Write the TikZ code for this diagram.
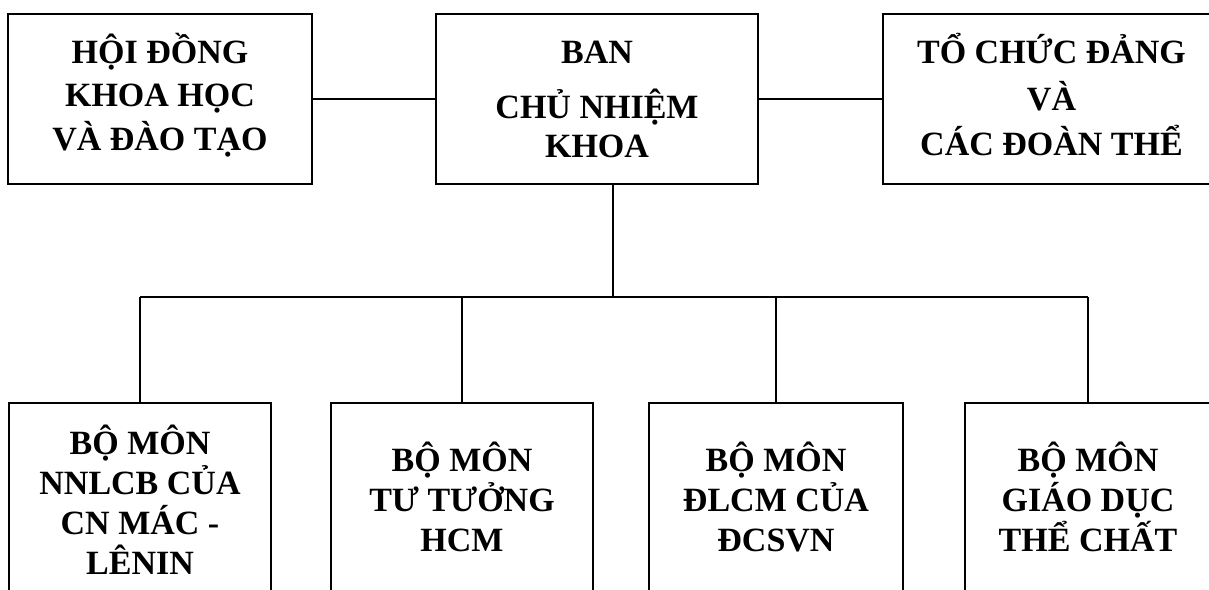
\documentclass[tikz,border=0pt]{standalone}
\usepackage{fontspec}
\setmainfont{Liberation Serif}
\begin{document}
\begin{tikzpicture}[x=1pt,y=-1pt,
  box/.style={draw=black, line width=2pt, rectangle, inner sep=0pt},
  txt/.style={inner sep=0pt, align=center,
    font=\fontsize{34pt}{43.5pt}\selectfont\bfseries},
  btxt/.style={txt, font=\fontsize{34pt}{40pt}\selectfont\bfseries},
  link/.style={draw=black, line width=2pt}]
\useasboundingbox (0,0) rectangle (1209,589);
\clip (0,0) rectangle (1209,589);
\fill[white] (0,0) rectangle (1209,589);
% top row
\node[box, minimum width=304pt, minimum height=170pt] (hd) at (160,99) {};
\node[box, minimum width=322pt, minimum height=170pt] (bcn) at (597,99) {};
\node[box, minimum width=338pt, minimum height=170pt] (tc) at (1052,99) {};
\node[txt, yshift=4pt] (hdt) at (hd.center) {HỘI ĐỒNG\\KHOA HỌC\\VÀ ĐÀO TẠO};
\node[txt, font=\fontsize{34pt}{39pt}\selectfont\bfseries] (bcnt) at (bcn.center)
  {BAN\\[16pt]CHỦ NHIỆM\\KHOA};
\node[txt, yshift=4pt, font=\fontsize{34pt}{45pt}\selectfont\bfseries] (tct) at (1051.5,99)
  {TỔ CHỨC ĐẢNG\\[2pt]VÀ\\CÁC ĐOÀN THỂ};
% bottom row
\node[box, minimum width=262pt, minimum height=194pt] (b1) at (140,500) {};
\node[box, minimum width=262pt, minimum height=194pt] (b2) at (462,500) {};
\node[box, minimum width=254pt, minimum height=194pt] (b3) at (776,500) {};
\node[box, minimum width=246pt, minimum height=194pt] (b4) at (1088,500) {};
\node[btxt] (b1t) at (b1.center) {BỘ MÔN\\NNLCB CỦA\\CN MÁC -\\LÊNIN};
\node[btxt, yshift=3pt] (b2t) at (b2.center) {BỘ MÔN\\TƯ TƯỞNG\\HCM};
\node[btxt, yshift=3pt] (b3t) at (b3.center) {BỘ MÔN\\ĐLCM CỦA\\ĐCSVN};
\node[btxt, yshift=3pt] (b4t) at (b4.center) {BỘ MÔN\\GIÁO DỤC\\THỂ CHẤT};
% connectors
\coordinate (bus) at (613,297);
\draw[link] (hd.east) -- (bcn.west);
\draw[link] (bcn.east) -- (tc.west);
\draw[link] (bus |- bcn.south) -- (bus);
\draw[link] (b1.north |- bus) -- (b4.north |- bus);
\draw[link] (b1.north |- bus) -- (b1.north);
\draw[link] (b2.north |- bus) -- (b2.north);
\draw[link] (b3.north |- bus) -- (b3.north);
\draw[link] (b4.north |- bus) -- (b4.north);
\end{tikzpicture}
\end{document}
